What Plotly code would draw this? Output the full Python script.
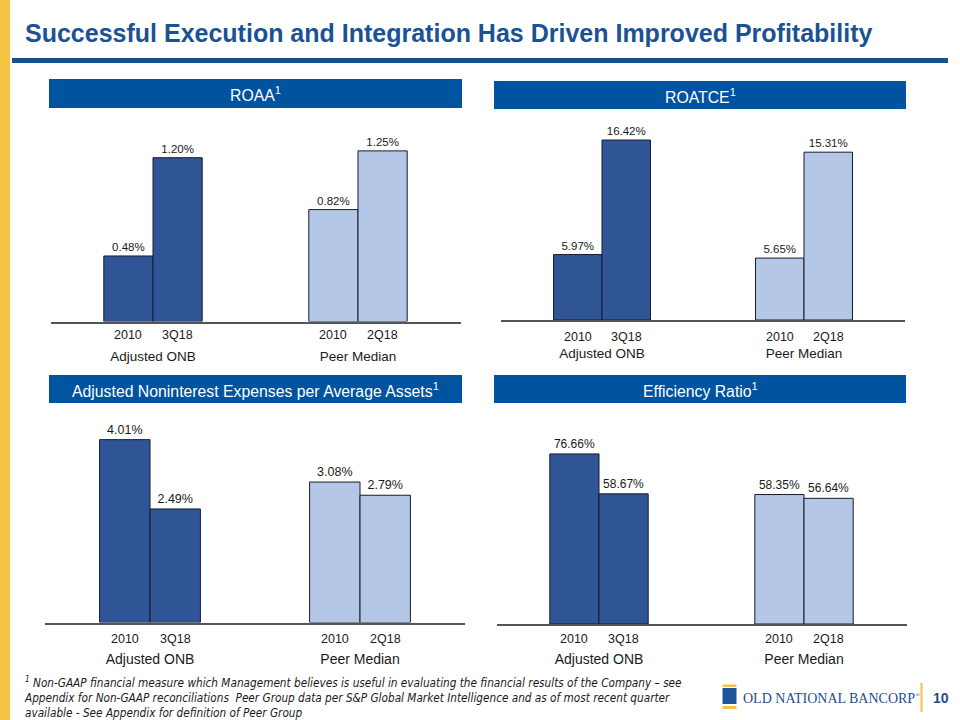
import plotly.graph_objects as go

# ---------------- data ----------------
groups = ["Adjusted ONB", "Peer Median"]
periods = [["2010", "3Q18"], ["2010", "2Q18"]]

roaa_2010 = [0.48, 0.82]
roaa_latest = [1.20, 1.25]
roatce_2010 = [5.97, 5.65]
roatce_latest = [16.42, 15.31]
nie_2010 = [4.01, 3.08]
nie_latest = [2.49, 2.79]
eff_2010 = [76.66, 58.35]
eff_latest = [58.67, 56.64]

titles = ["ROAA<sup>1</sup>", "ROATCE<sup>1</sup>",
          "Adjusted Noninterest Expenses per Average Assets<sup>1</sup>",
          "Efficiency Ratio<sup>1</sup>"]

# ---------------- style ----------------
W, H = 960, 720
DARK = "#2F5597"
LIGHT = "#B4C7E7"
HDR = "#00539E"
TITLE_C = "#1A5294"
YELLOW = "#F5C243"
FONT = "Liberation Sans, Arial, sans-serif"
BARGAP = 0.52


def px(x):
    return x / W


def py(y):
    return 1 - y / H


panels = [
    dict(x0=50.5, x1=460.5, top=130, zero=321.5, ymax=1.403, vfs=11.5, gfs=13.5, ty=335, std=22),
    dict(x0=501, x1=905, top=125, zero=320, ymax=17.79, vfs=11.5, gfs=13.5, ty=337, std=20),
    dict(x0=45, x1=465, top=415, zero=622.5, ymax=4.55, vfs=12.5, gfs=14, ty=639, std=23),
    dict(x0=496.5, x1=906.5, top=415, zero=624, ymax=94.2, vfs=12, gfs=14, ty=639, std=21),
]
series = [(roaa_2010, roaa_latest), (roatce_2010, roatce_latest),
          (nie_2010, nie_latest), (eff_2010, eff_latest)]
headers = [(49, 462, 79, 108), (494, 906, 81, 109), (49, 462, 375, 403), (494, 906, 375, 403)]

fig = go.Figure()
annotations = []
shapes = []

for i, (p, (first, latest)) in enumerate(zip(panels, series)):
    n = "" if i == 0 else str(i + 1)
    xa, ya = "x" + n, "y" + n
    for vals in (first, latest):
        fig.add_trace(go.Bar(
            x=groups, y=vals, xaxis=xa, yaxis=ya,
            marker=dict(color=[DARK, LIGHT], line=dict(color="#1B1B2A", width=1)),
            text=[f"{v:.2f}%" for v in vals], textposition="outside",
            textfont=dict(family=FONT, size=p["vfs"], color="#1A1A1A"),
            cliponaxis=False, showlegend=False, hoverinfo="skip",
        ))
    fig.update_layout(**{
        "xaxis" + n: dict(domain=[px(p["x0"]), px(p["x1"])], anchor=ya,
                          range=[-0.5, 1.5], showline=True, linecolor="#555555",
                          linewidth=1.5, ticks="", showgrid=False, zeroline=False,
                          ticklabelstandoff=p["std"],
                          tickfont=dict(family=FONT, size=p["gfs"], color="#1A1A1A"),
                          fixedrange=True),
        "yaxis" + n: dict(domain=[py(p["zero"]), py(p["top"])], anchor=xa,
                          range=[0, p["ymax"]], visible=False, fixedrange=True),
    })
    half = (1 - BARGAP) / 4
    for gi, per in enumerate(periods):
        for k, lab in enumerate(per):
            annotations.append(dict(
                x=gi + (-half if k == 0 else half), xref=xa,
                y=py(p["ty"]), yref="paper", text=lab, showarrow=False,
                xanchor="center", yanchor="middle",
                font=dict(family=FONT, size=12.5, color="#1A1A1A")))
    hx0, hx1, hy0, hy1 = headers[i]
    shapes.append(dict(type="rect", xref="paper", yref="paper",
                       x0=px(hx0), x1=px(hx1), y0=py(hy1), y1=py(hy0),
                       fillcolor=HDR, line=dict(width=0), layer="below"))
    annotations.append(dict(x=px((hx0 + hx1) / 2), y=py((hy0 + hy1) / 2 + 1),
                            xref="paper", yref="paper", text=titles[i], showarrow=False,
                            xanchor="center", yanchor="middle",
                            font=dict(family=FONT, size=15.8, color="white")))

shapes += [
    dict(type="rect", xref="paper", yref="paper", x0=0, x1=px(10), y0=0, y1=1,
         fillcolor=YELLOW, line=dict(width=0)),
    dict(type="rect", xref="paper", yref="paper", x0=px(12), x1=px(948), y0=py(63), y1=py(58),
         fillcolor="#17508F", line=dict(width=0)),
    dict(type="rect", xref="paper", yref="paper", x0=px(722.5), x1=px(736.5), y0=py(704), y1=py(688),
         fillcolor="#1F5499", line=dict(width=0)),
    dict(type="rect", xref="paper", yref="paper", x0=px(722.5), x1=px(736.5), y0=py(687), y1=py(684.5),
         fillcolor=YELLOW, line=dict(width=0)),
    dict(type="rect", xref="paper", yref="paper", x0=px(722.5), x1=px(736.5), y0=py(709), y1=py(706),
         fillcolor=YELLOW, line=dict(width=0)),
    dict(type="line", xref="paper", yref="paper", x0=px(921.5), x1=px(921.5), y0=py(712), y1=py(683),
         line=dict(color=YELLOW, width=2)),
]

annotations += [
    dict(x=px(23), y=py(33), xref="paper", yref="paper", xanchor="left", yanchor="middle",
         showarrow=False, text="<b>Successful Execution and Integration Has Driven Improved Profitability</b>",
         font=dict(family=FONT, size=25, color=TITLE_C)),
    dict(x=px(22), y=py(672), xref="paper", yref="paper", xanchor="left", yanchor="top",
         showarrow=False, align="left",
         text=("<i><sup>1</sup> Non-GAAP financial measure which Management believes is useful in evaluating the financial results of the Company – see<br>"
               "Appendix for Non-GAAP reconciliations  Peer Group data per S&P Global Market Intelligence and as of most recent quarter<br>"
               "available - See Appendix for definition of Peer Group</i>"),
         font=dict(family="Liberation Sans Narrow, Arial Narrow, DejaVu Sans Condensed, sans-serif",
                   size=11.7, color="#1A1A1A")),
    dict(x=px(741), y=py(698), xref="paper", yref="paper", xanchor="left", yanchor="middle",
         showarrow=False, text="OLD NATIONAL BANCORP<sup><span style='font-size:6px'>®</span></sup>",
         font=dict(family="Liberation Serif, Times New Roman, serif", size=14, color="#1F4E8C")),
    dict(x=px(940.5), y=py(698), xref="paper", yref="paper", xanchor="center", yanchor="middle",
         showarrow=False, text="<b>10</b>",
         font=dict(family=FONT, size=14, color="#1F4E8C")),
]

fig.update_layout(
    width=W, height=H, margin=dict(l=0, r=0, t=0, b=0),
    paper_bgcolor="white", plot_bgcolor="white",
    barmode="group", bargap=BARGAP, bargroupgap=0,
    shapes=shapes, annotations=annotations,
    font=dict(family=FONT),
)

fig.write_html("out.html", config={"displayModeBar": False},
               post_script="document.body.style.margin='0';document.body.style.overflow='hidden';")
